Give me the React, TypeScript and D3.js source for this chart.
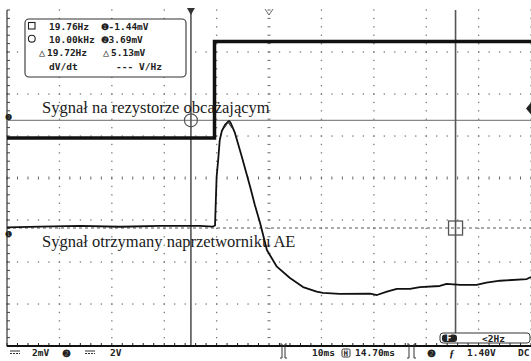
import React from "react";
import * as d3 from "d3";

// ---- data (time in ms, ch1 in mV, ch2 in V) ----
const ch1Time = [-35, -28.7, -21.1, -13.4, -5.8, 1.8, 4.3, 4.7, 5.0, 5.3, 5.6, 6.0, 6.6, 7.2, 7.4, 7.7, 8.5, 9.8, 11.4, 12.3, 13.3, 14.6, 16.5, 19.0, 21.5, 24.1, 25.3, 28.5, 34.3, 35.6, 37.5, 39.4, 41.9, 43.8, 47.6, 48.9, 51.5, 54.6, 56.5, 59.1, 64.2, 65];
const ch1mV = [-1.41, -1.37, -1.34, -1.38, -1.34, -1.34, -1.37, -1.32, 0.99, 1.8, 2.75, 3.18, 3.47, 3.63, 3.66, 3.56, 3.09, 1.96, 0.53, -0.34, -1.2, -2.49, -3.28, -3.82, -4.25, -4.47, -4.53, -4.58, -4.56, -4.63, -4.47, -4.34, -4.34, -4.25, -4.2, -4.1, -4.15, -4.15, -4.04, -3.95, -3.87, -3.77];
const ch2Time = [-35, 4.6, 4.6, 65];
const ch2V = [0, 0, 4.6, 4.6];

const cursorTime = [0.1, 50.6]; // circle, square
const cursorCh1 = [3.69, -1.44];
const triggerLevelV = 1.4;

const legendRows = [
  { sym: "square", f: "19.76Hz", ch: "❶", v: "-1.44mV" },
  { sym: "circle", f: "10.00kHz", ch: "❷", v: "3.69mV" },
  { sym: "delta", f: "19.72Hz", ch: "△", v: "5.13mV" },
];
const labelTop = "Sygnał na rezystorze obcażającym";
const labelBottom = "Sygnał otrzymany naprzetworniku AE";

const W = 531, H = 361;
const L = 7, R = 531, T = 10, B = 346;

export default function App() {
  const x = d3.scaleLinear().domain([-35, 65]).range([L, R]);
  const yDiv = d3.scaleLinear().domain([-4, 4]).range([B, T]);
  const gx = d3.scaleLinear().domain([0, 10]).range([L, R]);
  const CH1_POS = -0.471, CH2_POS = 0.952;
  const y1 = (v: number) => yDiv(v / 2 + CH1_POS);
  const y2 = (v: number) => yDiv(v / 2 + CH2_POS);

  const line1 = d3.line<number>().x((_, i) => x(ch1Time[i])).y((d) => y1(d));
  const line2 = d3.line<number>().x((_, i) => x(ch2Time[i])).y((d) => y2(d));

  const dots: JSX.Element[] = [];
  const dotCol = "#777";
  for (let j = 1; j <= 8; j++) {
    if (j === 4 || j === 0) continue;
    const yy = yDiv(4 - j);
    for (let k = 0; k <= 50; k++) {
      dots.push(<rect key={`h${j}-${k}`} x={gx(k / 5) - 0.6} y={yy - 0.6} width={1.3} height={1.3} fill={dotCol} />);
    }
  }
  for (let i = 1; i <= 10; i++) {
    if (i === 5) continue;
    const xx = gx(i);
    for (let k = 0; k <= 40; k++) {
      dots.push(<rect key={`v${i}-${k}`} x={xx - 0.6} y={yDiv(-4 + k / 5) - 0.6} width={1.3} height={1.3} fill={dotCol} />);
    }
  }
  // center lines with ticks
  const ticks: JSX.Element[] = [];
  const cy = yDiv(0), cx = gx(5);
  for (let k = 0; k <= 50; k++) {
    const xx = gx(k / 5);
    ticks.push(<line key={`ct${k}`} x1={xx} x2={xx} y1={cy - 1.5} y2={cy + 1.5} stroke="#666" strokeWidth={1} />);
    ticks.push(<line key={`bt${k}`} x1={xx} x2={xx} y1={B - 3} y2={B} stroke="#222" strokeWidth={1} />);
  }
  for (let k = 0; k <= 40; k++) {
    const yy = yDiv(-4 + k / 5);
    ticks.push(<line key={`cv${k}`} x1={cx - 1.5} x2={cx + 1.5} y1={yy} y2={yy} stroke="#666" strokeWidth={1} />);
    ticks.push(<line key={`lt${k}`} x1={L} x2={L + 3} y1={yy} y2={yy} stroke="#444" strokeWidth={1} />);
  }

  const cxC = x(cursorTime[0]), cyC = y1(cursorCh1[0]);
  const cxS = x(cursorTime[1]), cyS = y1(cursorCh1[1]);
  const trigY = y2(triggerLevelV);

  const mono = { fontFamily: "'DejaVu Sans Mono', monospace", fontWeight: 700 as const, fontSize: 9.5, fill: "#222" };
  const serif = { fontFamily: "'Liberation Serif', 'Times New Roman', serif", fontSize: 16.5, fill: "#1a1a1a" };

  return (
    <svg width={W} height={H} style={{ position: "fixed", left: 0, top: 0, background: "#fff" }}>
      <rect x={0} y={0} width={W} height={H} fill="#fff" />
      {dots}
      {ticks}
      {/* frame */}
      <line x1={L} x2={L} y1={T} y2={B} stroke="#333" strokeWidth={1.2} />
      {/* cursor horizontal lines */}
      <line x1={L} x2={R} y1={cyC} y2={cyC} stroke="#888" strokeWidth={1.2} />
      <line x1={L} x2={R} y1={cyS} y2={cyS} stroke="#555" strokeWidth={1.2} strokeDasharray="3,3" />
      {/* cursor vertical lines */}
      <line x1={cxC} x2={cxC} y1={T} y2={B} stroke="#555" strokeWidth={1.6} />
      <line x1={cxS} x2={cxS} y1={T} y2={333} stroke="#555" strokeWidth={1.6} />
      <circle cx={cxC} cy={cyC} r={6.5} fill="none" stroke="#555" strokeWidth={1.2} />
      <rect x={cxS - 7} y={cyS - 7} width={14} height={14} fill="none" stroke="#555" strokeWidth={1.3} />
      {/* traces */}
      <path d={line2(ch2V) ?? ""} fill="none" stroke="#111" strokeWidth={3.5} />
      <line x1={x(ch2Time[1])} x2={x(ch2Time[2])} y1={y2(ch2V[1])} y2={y2(ch2V[2])} stroke="#111" strokeWidth={1.5} />
      <path d={line1(ch1mV) ?? ""} fill="none" stroke="#111" strokeWidth={1.8} strokeLinejoin="round" />
      {/* markers */}
      <path d={`M${cxC - 4},${T - 2} L${cxC + 4},${T - 2} L${cxC},${T + 5} Z`} fill="#333" />
      <path d={`M${cx - 4},${T - 1} L${cx},${T + 5} L${cx + 4},${T - 1}`} fill="none" stroke="#666" strokeWidth={1} />
      <path d={`M${x(7.2) - 4},128 L${x(7.2)},122 L${x(7.2) + 4},128`} fill="none" stroke="#333" strokeWidth={1.2} />
      <path d={`M${R},${trigY - 6} L${R - 5},${trigY} L${R},${trigY + 6} Z`} fill="#222" />
      <text x={5} y={120} style={{ ...mono, fontSize: 8 }}>❷</text>
      <text x={5} y={237} style={{ ...mono, fontSize: 8 }}>❶</text>
      {/* annotations */}
      <text x={42} y={113} style={serif}>{labelTop}</text>
      <text x={42} y={247} style={serif}>{labelBottom}</text>
      {/* legend box */}
      <rect x={25} y={19} width={161} height={58} rx={4} fill="#fff" stroke="#333" strokeWidth={1.1} />
      {legendRows.map((r, i) => {
        const by = 29.5 + i * 13;
        return (
          <g key={i}>
            {r.sym === "square" && <rect x={28.5} y={by - 7} width={6.5} height={6.5} fill="none" stroke="#222" strokeWidth={1.1} />}
            {r.sym === "circle" && <circle cx={31.8} cy={by - 3.8} r={3.4} fill="none" stroke="#222" strokeWidth={1.1} />}
            {r.sym === "delta" && <text x={39} y={by} style={{ ...mono, fontWeight: 400, fontSize: 10 }}>△</text>}
            <text x={r.sym === "delta" ? 47 : 49} y={by} style={mono}>{r.f}</text>
            <text x={r.sym === "delta" ? 103 : 101} y={by} style={{ ...mono, fontWeight: r.sym === "delta" ? 400 : 700, fontSize: r.sym === "delta" ? 10 : 8.5 }}>{r.ch}</text>
            <text x={r.sym === "delta" ? 111 : 108.5} y={by} style={mono}>{r.v}</text>
          </g>
        );
      })}
      <text x={49} y={70} style={mono}>dV/dt</text>
      <text x={116} y={70} style={mono}>---</text>
      <text x={139} y={70} style={mono}>V/Hz</text>
      {/* F filter box */}
      <rect x={440} y={333} width={90} height={10} rx={3} fill="#fff" stroke="#333" strokeWidth={1} />
      <rect x={442} y={334.5} width={15} height={7.5} rx={3} fill="#222" />
      <text x={446.5} y={341} style={{ ...mono, fill: "#fff", fontSize: 8 }}>F</text>
      <text x={482} y={341.5} style={mono}>{"<2Hz"}</text>
      {/* bottom axis */}
      <line x1={L} x2={R} y1={B} y2={B} stroke="#111" strokeWidth={2} />
      {/* status bar */}
      <line x1={10} x2={20} y1={351} y2={351} stroke="#333" strokeWidth={1} />
      <line x1={10} x2={20} y1={353.5} y2={353.5} stroke="#333" strokeWidth={1} strokeDasharray="2,1" />
      <text x={32} y={356} style={mono}>2mV</text>
      <text x={62} y={356.5} style={{ ...mono, fontSize: 10 }}>❷</text>
      <line x1={85} x2={95} y1={351} y2={351} stroke="#333" strokeWidth={1} />
      <line x1={85} x2={95} y1={353.5} y2={353.5} stroke="#333" strokeWidth={1} strokeDasharray="2,1" />
      <text x={110} y={356} style={mono}>2V</text>
      <path d="M280,344 L282,344 L282,358 L280,358 M287,344 L285,344 L285,358 L287,358" fill="none" stroke="#333" strokeWidth={1} />
      <text x={312} y={356} style={mono}>10ms</text>
      <rect x={342} y={349} width={8} height={8} rx={1.5} fill="#fff" stroke="#333" strokeWidth={1} />
      <text x={343.5} y={356} style={{ ...mono, fontSize: 7.5 }}>H</text>
      <text x={355} y={356} style={mono}>14.70ms</text>
      <path d="M407,344 L409,344 L409,358 L407,358 M416,344 L414,344 L414,358 L416,358" fill="none" stroke="#333" strokeWidth={1} />
      <text x={427} y={356.5} style={{ ...mono, fontSize: 10 }}>❷</text>
      <text x={449} y={357} style={{ ...mono, fontFamily: "'Liberation Serif', serif", fontStyle: "italic", fontSize: 11 }}>ƒ</text>
      <text x={467} y={356} style={mono}>1.40V</text>
      <text x={518} y={356} style={mono}>DC</text>
    </svg>
  );
}
